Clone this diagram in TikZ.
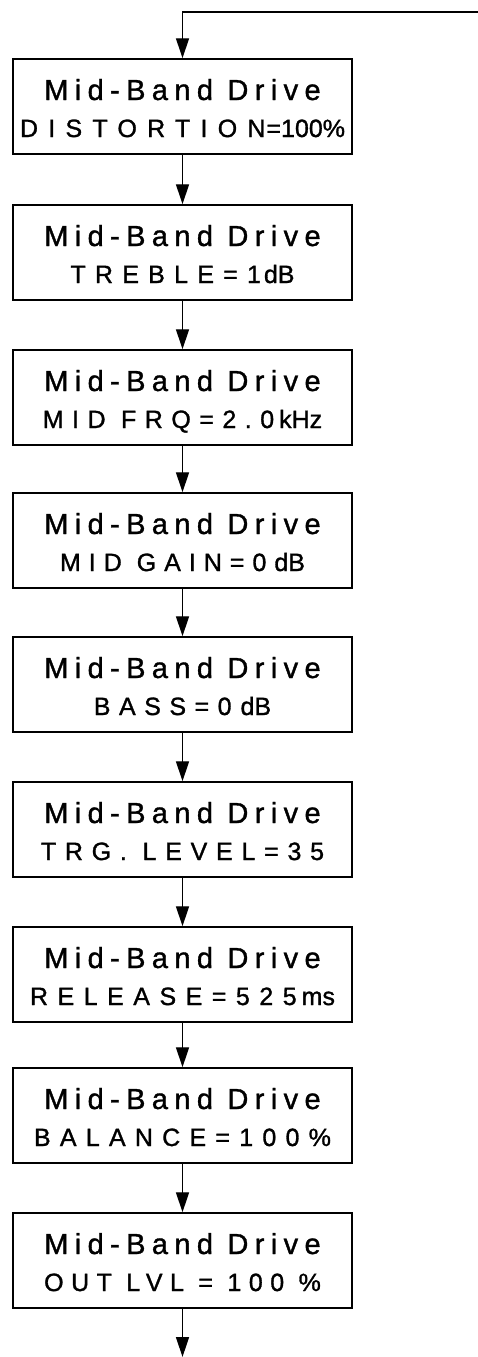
\documentclass[tikz,border=0pt]{standalone}
\usepackage{fontspec}
\setmainfont{Liberation Sans}
\usetikzlibrary{arrows.meta}
\newcommand\trk[2]{{\addfontfeature{LetterSpace=#1}#2}}
\newcommand\boxtext[1]{\vbox{\baselineskip=37pt\lineskiplimit=-1000pt\lineskip=0pt
 \hbox to 339pt{\hss\rule{0pt}{30pt}\fontsize{29}{29}\selectfont\addfontfeature{FakeBold=1.2}\trk{22}{Mid-Band Drive}\hss}
 \hbox to 339pt{\hss\rule[-6pt]{0pt}{6pt}\fontsize{25}{25}\selectfont\addfontfeature{FakeBold=1.2}#1\hss}}}
\tikzset{
 stagebox/.style={draw, line width=1.5pt, rectangle, minimum width=339pt, minimum height=95pt, inner sep=0pt},
 flow/.style={line width=1.3pt, -{Triangle[length=20pt,width=13pt]}}
}
\begin{document}
\begin{tikzpicture}[x=1pt,y=-1pt]
\useasboundingbox (0,0) rectangle (478,1357);
\node[stagebox] (b1) at (182.5,106.5) {\boxtext{\trk{41}{DISTORTION}\kern1pt=100\%}};
\node[stagebox] (b2) at (182.5,252.5) {\boxtext{\trk{37}{TREBLE=1}\kern3pt dB}};
\node[stagebox] (b3) at (182.5,397.5) {\boxtext{\trk{34}{MID FRQ=2.0}\kern5pt kHz}};
\node[stagebox] (b4) at (182.5,540.5) {\boxtext{\trk{32}{MID GAIN=0}\kern8pt dB}};
\node[stagebox] (b5) at (182.5,684.5) {\boxtext{\trk{34}{BASS=0}\kern9pt dB}};
\node[stagebox] (b6) at (182.5,829.5) {\boxtext{\trk{35}{TRG. LEVEL=35}}};
\node[stagebox] (b7) at (182.5,974.5) {\boxtext{\trk{38}{RELEASE=525}\kern5pt ms}};
\node[stagebox] (b8) at (182.5,1115.5) {\boxtext{\trk{37}{BALANCE=100\%}}};
\node[stagebox] (b9) at (182.5,1260.5) {\boxtext{\trk{30}{OUT LVL = 100 \%}}};
\coordinate (feedR) at (478,12);
\coordinate (feedC) at (182.5,12);
\coordinate (exitE) at (182.5,1357);
\draw[flow] (feedR) -- (feedC) -- (b1.north);
\draw[flow] (b1.south) -- (b2.north);
\draw[flow] (b2.south) -- (b3.north);
\draw[flow] (b3.south) -- (b4.north);
\draw[flow] (b4.south) -- (b5.north);
\draw[flow] (b5.south) -- (b6.north);
\draw[flow] (b6.south) -- (b7.north);
\draw[flow] (b7.south) -- (b8.north);
\draw[flow] (b8.south) -- (b9.north);
\draw[flow] (b9.south) -- (exitE);
\end{tikzpicture}
\end{document}
